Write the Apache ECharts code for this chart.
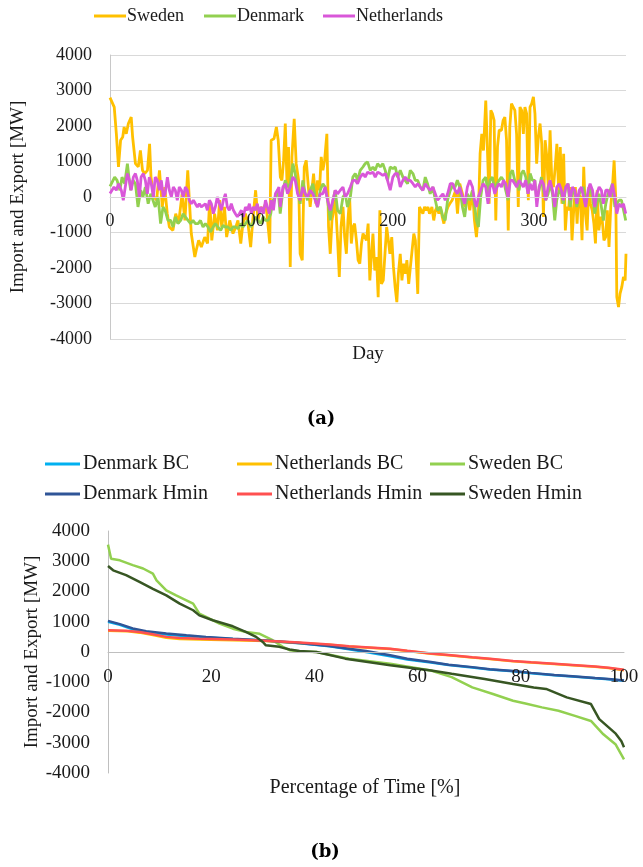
<!DOCTYPE html>
<html>
<head>
<meta charset="utf-8">
<script src="https://cdn.jsdelivr.net/npm/echarts@6/dist/echarts.min.js"></script>
<style>
html,body{margin:0;padding:0;background:#fff;}
#chart{width:643px;height:867px;}
</style>
</head>
<body>
<div id="chart"></div>
<script>
// ---------- Chart (a): daily import/export [day, MW] ----------
const swedenDaily = [[0,2800],[1,2820],[3,2530],[4.5,1780],[6,850],[7.5,1600],[9,1690],[10,1970],[11.5,1780],[13,2070],[15,2250],[16,1690],[18,940],[20,850],[21.5,1310],[23,750],[24.5,660],[26.5,750],[28,1500],[29,560],[31,0],[33,-90],[35,750],[37,-280],[38.7,280],[40.5,-470],[42,-845],[44.5,-940],[46.5,-470],[48.5,-750],[51,90],[53,-660],[55,750],[56.4,-280],[57.5,-1030],[60,-1690],[61,-1500],[62.7,-1220],[64.6,-1410],[67,-1130],[69,-1310],[70.5,-90],[72,-1220],[74,-470],[76,-940],[77.6,-90],[79,-845],[81,-280],[82.5,-1130],[84.7,-660],[87,-1030],[89,-845],[90.5,-660],[92.5,-1310],[94,-750],[95.8,-470],[97.6,-750],[99.5,-1410],[101,-660],[103,190],[104.7,-660],[106.6,-280],[108,-375],[110,-190],[111,-470],[113,-1310],[114,1600],[116,1640],[117.7,1970],[119,1600],[120.5,560],[121.6,470],[122.8,1030],[124,2070],[125.2,375],[126.3,1410],[127.5,-1970],[128.7,1130],[130.3,2200],[131.7,940],[133.4,470],[134.5,-1600],[136,-1780],[137.4,840],[138.8,1030],[140.5,190],[141.6,-280],[142.8,190],[144,660],[145.6,-190],[146.8,470],[148.2,190],[149.4,1130],[150.6,750],[151.8,1030],[153.4,1780],[154.6,-845],[155.8,-1600],[157,-660],[158.2,-375],[159.4,-90],[161,-1220],[162.2,-2250],[163.4,-845],[164.8,-280],[166,-1130],[167.2,-1600],[168.3,-660],[169.5,0],[170.7,-1310],[171.9,-845],[173,-750],[174.3,-1220],[175.5,-1780],[176.7,-1880],[177.9,-1310],[179,-1030],[180.2,-1130],[181.4,-1220],[182.6,-750],[183.8,-2350],[185,-1600],[186,-1030],[187.3,-2070],[188.5,-1690],[189.7,-2820],[190.9,-375],[192,-2450],[193.3,-2350],[194.5,-1600],[195.7,-845],[196.9,-1220],[198,-1600],[199.3,-1130],[200.5,-1970],[201.7,-2540],[202.9,-2960],[204,-2160],[205.3,-1600],[206.5,-2350],[207.7,-1880],[208.9,-2160],[210,-1780],[211.3,-2450],[212.5,-1970],[213.7,-1500],[214.9,-1030],[216,-1220],[217.7,-2730],[218.9,-280],[220,-280],[221.3,-470],[222.5,-280],[223.7,-375],[224.9,-280],[226,-470],[227.7,-280],[229,-660],[230.2,-375],[231.4,-280],[232.6,-470],[233.8,-280],[235,-560],[236.2,-750],[237.4,-470],[239,-280],[240.3,-190],[242,-90],[243.7,90],[244.5,190],[245.8,-470],[247.4,375],[249.3,90],[251,-280],[252.8,0],[254.5,-375],[256.4,190],[257.8,-660],[259.2,-1130],[260.6,-470],[261.8,1220],[263,1780],[264.2,1310],[265.8,2720],[267,1310],[268.2,-190],[269.4,2440],[270.5,2350],[271.7,2160],[272.9,-660],[274.1,1410],[275.3,1880],[276.9,1880],[278.1,2160],[279.3,2250],[280.5,1600],[281.7,-940],[282.8,1970],[284,2630],[285.2,2535],[286.4,2440],[287.6,1780],[288.8,-280],[290,2535],[291.2,2440],[292.4,1780],[293.5,2535],[294.7,2350],[295.9,-90],[297.1,2535],[298.3,2630],[299.5,2820],[300.6,2350],[301.8,940],[303,1690],[304.2,2070],[305.4,1500],[306.6,-560],[307.8,1600],[309,1130],[310.1,190],[311.3,1880],[312.5,470],[313.7,280],[314.9,840],[316.1,1500],[317.3,190],[318.5,1410],[319.7,-190],[320.9,1220],[322.1,-940],[323.2,-280],[324.4,-375],[325.6,280],[326.8,-1220],[328,-375],[329.2,280],[330.4,-750],[331.5,90],[332.7,0],[333.9,-1220],[335.1,850],[336.3,-470],[337.5,-940],[338.7,280],[339.9,-190],[341.1,-375],[342.3,-750],[343.4,-1310],[344.6,190],[345.8,-940],[347,-560],[348.2,-660],[349.4,-1220],[350.6,-1130],[351.8,-375],[353,-1410],[354.2,-280],[355.4,280],[356.6,1030],[357.8,-90],[358.5,-2820],[359.7,-3100],[360.8,-2720],[362,-2540],[363.2,-2250],[364.4,-2350],[365,-1600]];

const denmarkDaily = [[0,300],[1,375],[3.3,560],[5,470],[7,190],[8.5,560],[10.4,375],[12.3,940],[13.4,560],[14.6,190],[16.3,470],[18,375],[19.8,-280],[21.7,190],[23.3,0],[25,280],[27,-190],[28.8,90],[30.4,-90],[32,-280],[34,0],[35.8,-750],[37.5,-280],[39,-375],[41,-660],[43,-660],[44.6,-845],[46.2,-560],[48,-750],[50,-660],[51.7,-470],[53.3,-560],[55.2,-660],[57,-750],[58.7,-660],[60.4,-750],[62.3,-750],[64,-660],[65.8,-845],[67.5,-750],[69.3,-845],[71.2,-985],[72.9,-845],[74.5,-750],[76.4,-845],[78.3,-940],[80,-800],[81.6,-845],[83.5,-845],[85.4,-940],[87,-845],[88.7,-845],[90.6,-890],[92.5,-750],[94.1,-845],[95.8,-750],[97.6,-660],[99.5,-845],[101.2,-750],[102.8,-560],[104.7,-660],[106.6,-750],[108.3,-560],[110,-660],[111.8,-660],[113.7,-470],[115.3,-90],[117,0],[118.9,190],[120.4,-470],[122.3,190],[124,470],[125.6,280],[127.5,375],[129.4,940],[131,660],[132.7,190],[134.5,-190],[136.4,470],[138.1,90],[139.7,-90],[141.6,190],[143.5,375],[145.2,0],[146.8,-280],[148.7,190],[150.6,375],[152.2,280],[153.9,-90],[155.8,-660],[157.7,-90],[159.3,190],[161,-375],[162.9,-470],[164.8,0],[166.4,90],[168,-280],[170,0],[171.8,560],[173.5,660],[175.1,470],[177,750],[178.9,845],[180.5,940],[182.2,990],[184.1,750],[186,845],[187.6,750],[189.3,940],[191.2,845],[193,940],[194.7,750],[196.3,470],[198.2,845],[200.1,800],[201.8,845],[203.4,560],[205.3,750],[207.2,560],[208.8,470],[210.5,375],[212.4,750],[214.3,660],[215.9,470],[217.6,470],[219.5,280],[221.3,190],[223,560],[224.6,375],[226.5,90],[228.4,280],[230.1,-90],[231.7,-375],[233.6,-280],[235.5,-560],[237.1,-660],[238.8,-90],[240.7,190],[242.5,330],[244.1,280],[245.7,470],[247.4,280],[249.3,-280],[250.9,-560],[252.8,90],[254.5,-90],[256.4,190],[257.8,-190],[259.2,-660],[260.6,-845],[262.2,0],[263.9,470],[265.8,560],[267.4,90],[268.8,470],[270.5,560],[272.2,190],[273.8,375],[275.2,470],[276.9,560],[278.3,470],[279.9,190],[281.6,-90],[283.2,660],[284.7,750],[286.3,470],[287.7,375],[289.4,190],[291,660],[292.4,750],[294.1,560],[295.7,90],[297.2,660],[298.8,470],[300.5,470],[301.9,-90],[303.5,190],[305.2,560],[306.6,190],[308.2,-90],[309.9,90],[311.3,375],[313,90],[314.6,-660],[316,-90],[317.7,190],[319.3,90],[320.7,-190],[322.4,280],[324,375],[325.5,-280],[327.1,190],[328.8,90],[330.2,-280],[331.9,90],[333.5,190],[334.9,280],[336.5,-190],[338.2,90],[339.6,280],[341.3,0],[342.9,-470],[344.3,-190],[346,90],[347.6,-280],[349,-660],[350.7,-190],[352.3,90],[353.8,190],[355.4,375],[357.1,-280],[358.5,-190],[360.1,-90],[361.8,-90],[363.2,-90],[364.8,-660]];

const netherlandsDaily = [[0,100],[1,90],[2.8,280],[4.5,190],[6,375],[8,190],[9.4,-90],[10.8,280],[12.3,660],[13.7,470],[15,190],[16.5,560],[18,660],[19.3,470],[20.8,0],[22,560],[23.6,660],[25,470],[26.4,90],[27.8,560],[29.2,375],[30.7,0],[32,560],[33.5,470],[34.9,190],[36.3,470],[37.7,0],[39,90],[40.6,560],[42,190],[43.4,0],[44.8,280],[46.2,190],[47.6,-90],[49,280],[50.5,190],[51.9,0],[53.3,280],[54.7,190],[56.1,-90],[57.5,-190],[59,-90],[60.4,-190],[61.8,-280],[63.2,-190],[64.6,-280],[66,-280],[67.5,-190],[68.9,-375],[70.3,-90],[71.7,-190],[73.1,-470],[74.5,-280],[75.9,0],[77.4,-190],[78.8,-375],[80.2,-90],[81.6,90],[83,-280],[84.4,-375],[85.8,-190],[87.3,-375],[88.7,-470],[90.1,-560],[91.5,-470],[92.9,-375],[94.3,-560],[95.8,-280],[97.2,-375],[98.6,-190],[100,-470],[101.4,-280],[102.8,-375],[104.2,-190],[105.7,-470],[107,-280],[108.5,-470],[110,-90],[111.3,-280],[112.7,-470],[114,-90],[115.6,-375],[117,90],[118.4,190],[119.5,280],[120.4,-280],[122.3,280],[124,375],[125.6,90],[127.5,280],[129.4,560],[131,470],[132.7,90],[134.5,-90],[136.4,280],[138.1,90],[139.7,0],[141.6,190],[143.5,90],[145.2,-90],[146.8,-280],[148.7,90],[150.6,90],[152.2,280],[153.9,-90],[155.8,-375],[157.7,-90],[159.3,190],[161,90],[162.9,190],[164.8,280],[166.4,0],[168,90],[170,280],[171.8,470],[173.5,470],[175.1,375],[177,560],[178.9,660],[180.5,560],[182.2,700],[184.1,660],[186,700],[187.6,560],[189.3,700],[191.2,660],[193,610],[194.7,660],[196.3,470],[198.2,190],[200.1,560],[201.8,660],[203.4,660],[205.3,280],[207.2,470],[208.8,560],[210.5,470],[212.4,470],[214.3,375],[215.9,280],[217.6,375],[219.5,280],[221.3,190],[223,375],[224.6,280],[226.5,190],[228.4,280],[230.1,90],[231.7,-90],[233.6,0],[235.5,90],[237.1,-90],[238.8,90],[240.7,375],[242.5,375],[244.1,190],[245.7,90],[247.4,280],[249.3,0],[250.9,-190],[252.8,280],[254.5,470],[256.4,280],[257.8,-90],[259.2,-280],[260.6,0],[262.2,190],[263.9,375],[265.8,280],[267.4,-190],[268.8,280],[270.5,375],[272.2,90],[273.8,280],[275.2,375],[276.9,280],[278.3,470],[279.9,375],[281.6,0],[283.2,470],[284.7,470],[286.3,375],[287.7,280],[289.4,470],[291,375],[292.4,280],[294.1,470],[295.7,90],[297.2,375],[298.8,190],[300.5,470],[301.9,-280],[303.5,280],[305.2,470],[306.6,375],[308.2,-90],[309.9,280],[311.3,470],[313,190],[314.6,-280],[316,280],[317.7,375],[319.3,190],[320.7,-90],[322.4,280],[324,375],[325.5,-90],[327.1,280],[328.8,190],[330.2,-190],[331.9,190],[333.5,280],[334.9,280],[336.5,-280],[338.2,190],[339.6,375],[341.3,190],[342.9,-280],[344.3,90],[346,280],[347.6,190],[349,-190],[350.7,190],[352.3,190],[353.8,0],[355.4,375],[357.1,0],[358.5,-470],[360.1,-190],[361.8,-280],[363.2,-190],[364.8,-470]];

// ---------- Chart (b): duration curves [percent of time, MW] ----------
const denmarkBC = [[0,1000],[2.3,900],[4.8,750],[7.4,660],[11.3,580],[15.2,520],[19,480],[24.2,430],[30.6,370],[37.1,290],[42.9,190],[46.7,90],[50,0],[54.7,-140],[58,-250],[62.6,-350],[66,-430],[70.6,-510],[74,-580],[78.5,-640],[82,-700],[86.5,-770],[90,-810],[94.4,-870],[97,-900],[100,-950]];
const netherlandsBC = [[0,700],[3.5,690],[6.1,640],[8.7,560],[11.3,470],[13.9,430],[17.7,410],[24.2,390],[30.6,360],[37.1,300],[42.9,240],[46.7,180],[54.7,100],[58,30],[62.6,-60],[66,-110],[70.6,-180],[74,-230],[78.5,-310],[82,-350],[86.5,-400],[90,-440],[94.4,-490],[97,-530],[100,-600]];
const swedenBC = [[0,3550],[0.6,3080],[2.3,3030],[4.8,2870],[6.8,2760],[8.7,2590],[9.4,2370],[11.3,2040],[13.2,1870],[15.2,1710],[16.5,1600],[17.7,1270],[19.7,1100],[21.6,940],[24.2,770],[26.8,660],[29.4,600],[31.9,390],[33.9,170],[35.2,60],[37.5,20],[40.4,0],[46.7,-220],[54.7,-390],[62.6,-610],[66.6,-830],[70.6,-1170],[74.6,-1390],[78.5,-1610],[80.9,-1700],[84.1,-1830],[87.3,-1940],[90.5,-2110],[93.6,-2280],[96,-2720],[98.4,-3060],[100,-3550]];
const denmarkHmin = [[0,1030],[2.3,920],[4.8,780],[7.4,690],[11.3,610],[15.2,550],[19,500],[24.2,440],[30.6,380],[37.1,300],[42.9,200],[46.7,110],[50,30],[54.7,-110],[58,-220],[62.6,-330],[66,-420],[70.6,-500],[74,-570],[78.5,-630],[82,-690],[86.5,-760],[90,-800],[94.4,-860],[97,-890],[100,-940]];
const netherlandsHmin = [[0,720],[3.5,700],[6.1,660],[8.7,590],[11.3,500],[13.9,460],[17.7,440],[24.2,410],[30.6,370],[37.1,310],[42.9,250],[46.7,190],[54.7,110],[58,40],[62.6,-50],[66,-100],[70.6,-170],[74,-220],[78.5,-300],[82,-340],[86.5,-390],[90,-430],[94.4,-480],[97,-520],[100,-590]];
const swedenHmin = [[0,2840],[1,2700],[3.5,2540],[6.1,2320],[8.7,2090],[11.3,1870],[13.9,1600],[16.5,1380],[17.7,1210],[20.3,1050],[24.2,850],[26.8,660],[28.7,500],[30,330],[30.6,220],[33.2,170],[35.2,80],[37.1,30],[40.4,0],[46,-220],[54.7,-440],[62.6,-610],[66.6,-720],[73,-890],[78.5,-1060],[82.5,-1170],[84.9,-1220],[88.9,-1500],[93.6,-1720],[95.2,-2220],[98.4,-2700],[99.5,-2950],[100,-3150]];

const FONT = 'Liberation Serif';
const TXT = '#1a1a1a';

function lineSeries(name, data, color, xi, width) {
  return {
    name: name, type: 'line', data: data,
    xAxisIndex: xi, yAxisIndex: xi,
    symbol: 'none', showSymbol: false, smooth: false,
    lineStyle: { color: color, width: width },
    itemStyle: { color: color },
    emphasis: { disabled: true }
  };
}
function leg(name, left, top, size, w, pad) {
  return {
    data: [name], left: left, top: top, icon: 'rect',
    itemWidth: w, itemHeight: 3, itemGap: 0, padding: 0,
    textStyle: { fontFamily: FONT, fontSize: size, color: TXT, padding: [0, 0, 0, pad] },
    selectedMode: false
  };
}
const plainNum = function (v) { return String(v); };

const chart = echarts.init(document.getElementById('chart'), null, { renderer: 'canvas' });
chart.setOption({
  animation: false,
  backgroundColor: '#fff',
  textStyle: { fontFamily: FONT },
  legend: [
    leg('Sweden', 94, 7, 18, 32, -4),
    leg('Denmark', 204, 7, 18, 32, -4),
    leg('Netherlands', 323, 7, 18, 32, -4),
    leg('Denmark BC', 45, 454, 20, 35, -2),
    leg('Netherlands BC', 237, 454, 20, 35, -2),
    leg('Sweden BC', 430, 454, 20, 35, -2),
    leg('Denmark Hmin', 45, 484, 20, 35, -2),
    leg('Netherlands Hmin', 237, 484, 20, 35, -2),
    leg('Sweden Hmin', 430, 484, 20, 35, -2)
  ],
  grid: [
    { left: 110, top: 55, width: 516, height: 284 },
    { left: 108, top: 531, width: 516, height: 242 }
  ],
  xAxis: [
    { gridIndex: 0, type: 'value', min: 0, max: 365, interval: 100, z: 10,
      position: 'bottom', offset: -142,
      axisLine: { onZero: false, lineStyle: { color: '#d9d9d9', width: 1 } },
      axisTick: { show: false }, splitLine: { show: false },
      axisLabel: { showMaxLabel: false, color: TXT, fontSize: 18, fontFamily: FONT, margin: 15, formatter: plainNum } },
    { gridIndex: 1, type: 'value', min: 0, max: 100, interval: 20, z: 10,
      position: 'bottom', offset: -121,
      axisLine: { onZero: false, lineStyle: { color: '#bfbfbf', width: 1 } },
      axisTick: { show: false }, splitLine: { show: false },
      axisLabel: { color: TXT, fontSize: 19, fontFamily: FONT, margin: 16, formatter: plainNum } }
  ],
  yAxis: [
    { gridIndex: 0, type: 'value', min: -4000, max: 4000, interval: 1000,
      axisLine: { show: true, onZero: false, lineStyle: { color: '#c8c8c8', width: 1 } },
      axisTick: { show: false },
      splitLine: { show: true, lineStyle: { color: '#d9d9d9', width: 1 } },
      axisLabel: { color: TXT, fontSize: 18, fontFamily: FONT, margin: 18, formatter: plainNum },
      name: 'Import and Export [MW]', nameLocation: 'middle', nameGap: 82, nameRotate: 90,
      nameMoveOverlap: false,
      nameTextStyle: { color: TXT, fontSize: 19, fontFamily: FONT } },
    { gridIndex: 1, type: 'value', min: -4000, max: 4000, interval: 1000,
      axisLine: { show: true, onZero: false, lineStyle: { color: '#bfbfbf', width: 1 } },
      axisTick: { show: false },
      splitLine: { show: false },
      axisLabel: { color: TXT, fontSize: 19, fontFamily: FONT, margin: 18, formatter: plainNum },
      name: 'Import and Export [MW]', nameLocation: 'middle', nameGap: 66, nameRotate: 90,
      nameMoveOverlap: false,
      nameTextStyle: { color: TXT, fontSize: 19, fontFamily: FONT } }
  ],
  graphic: [
    { type: 'text', x: 368, y: 354, style: { text: 'Day', font: '19px "Liberation Serif"', fill: TXT, textAlign: 'center', textVerticalAlign: 'middle' } },
    { type: 'text', x: 365, y: 788, style: { text: 'Percentage of Time [%]', font: '20px "Liberation Serif"', fill: TXT, textAlign: 'center', textVerticalAlign: 'middle' } },
    { type: 'text', x: 321, y: 419, style: { text: '(a)', font: 'bold 18px "DejaVu Serif"', fill: '#000', textAlign: 'center', textVerticalAlign: 'middle' } },
    { type: 'text', x: 325, y: 852, style: { text: '(b)', font: 'bold 18px "DejaVu Serif"', fill: '#000', textAlign: 'center', textVerticalAlign: 'middle' } }
  ],
  series: [
    lineSeries('Sweden', swedenDaily, '#FFC000', 0, 2.8),
    lineSeries('Denmark', denmarkDaily, '#92D050', 0, 2.8),
    lineSeries('Netherlands', netherlandsDaily, '#D957D9', 0, 2.8),
    lineSeries('Denmark BC', denmarkBC, '#00B0F0', 1, 2.5),
    lineSeries('Netherlands BC', netherlandsBC, '#FFC000', 1, 2.5),
    lineSeries('Sweden BC', swedenBC, '#92D050', 1, 2.5),
    lineSeries('Denmark Hmin', denmarkHmin, '#2F5597', 1, 2.5),
    lineSeries('Netherlands Hmin', netherlandsHmin, '#FF5050', 1, 2.5),
    lineSeries('Sweden Hmin', swedenHmin, '#375623', 1, 2.5)
  ]
});
</script>
</body>
</html>
